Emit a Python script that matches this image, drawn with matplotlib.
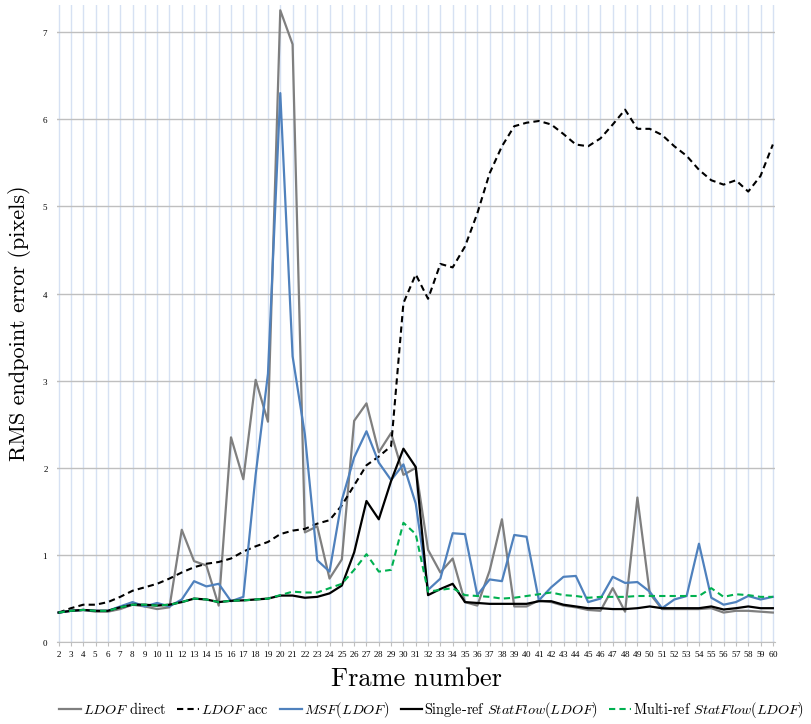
import numpy as np
import matplotlib
matplotlib.use('Agg')
import matplotlib.pyplot as plt

plt.rcParams['font.family'] = 'cmr10'
plt.rcParams['mathtext.fontset'] = 'cm'
plt.rcParams['axes.formatter.use_mathtext'] = True

# Frames and RMS endpoint error per method
frames = list(range(2, 61))

ldof_direct = [0.34, 0.36, 0.37, 0.35, 0.35, 0.38, 0.43, 0.41, 0.38, 0.40, 1.29, 0.93,
               0.88, 0.42, 2.35, 1.87, 3.01, 2.53, 7.25, 6.86, 1.26, 1.33, 0.73, 0.95,
               2.54, 2.74, 2.18, 2.40, 1.92, 2.00, 1.06, 0.80, 0.96, 0.46, 0.42, 0.82,
               1.41, 0.41, 0.41, 0.48, 0.46, 0.42, 0.40, 0.37, 0.36, 0.62, 0.35, 1.66,
               0.56, 0.38, 0.38, 0.38, 0.38, 0.39, 0.34, 0.36, 0.36, 0.35, 0.34]

ldof_acc = [0.34, 0.39, 0.43, 0.43, 0.46, 0.52, 0.59, 0.63, 0.67, 0.73, 0.80, 0.86,
            0.90, 0.92, 0.96, 1.04, 1.10, 1.15, 1.24, 1.28, 1.30, 1.36, 1.40, 1.57,
            1.80, 2.03, 2.13, 2.25, 3.89, 4.22, 3.94, 4.34, 4.30, 4.54, 4.92, 5.38,
            5.69, 5.92, 5.96, 5.98, 5.94, 5.83, 5.71, 5.69, 5.78, 5.94, 6.11, 5.89,
            5.89, 5.82, 5.69, 5.58, 5.42, 5.30, 5.25, 5.30, 5.17, 5.35, 5.71]

msf_ldof = [0.34, 0.36, 0.37, 0.36, 0.36, 0.41, 0.46, 0.41, 0.45, 0.41, 0.49, 0.70,
            0.64, 0.67, 0.47, 0.52, 1.92, 3.08, 6.30, 3.28, 2.38, 0.94, 0.81, 1.63,
            2.12, 2.42, 2.06, 1.86, 2.04, 1.59, 0.60, 0.73, 1.25, 1.24, 0.54, 0.72,
            0.70, 1.23, 1.21, 0.48, 0.63, 0.75, 0.76, 0.46, 0.50, 0.75, 0.68, 0.69,
            0.58, 0.39, 0.49, 0.53, 1.13, 0.51, 0.43, 0.46, 0.53, 0.49, 0.52]

single_ref = [0.34, 0.36, 0.37, 0.36, 0.36, 0.40, 0.43, 0.43, 0.42, 0.43, 0.46, 0.50,
              0.49, 0.46, 0.475, 0.48, 0.49, 0.50, 0.535, 0.535, 0.51, 0.52, 0.56, 0.65,
              1.03, 1.62, 1.41, 1.85, 2.22, 2.01, 0.54, 0.61, 0.67, 0.46, 0.45, 0.44,
              0.44, 0.44, 0.44, 0.47, 0.47, 0.43, 0.41, 0.39, 0.39, 0.38, 0.38, 0.39,
              0.41, 0.39, 0.39, 0.39, 0.39, 0.41, 0.375, 0.39, 0.41, 0.39, 0.39]

multi_ref = [0.34, 0.36, 0.37, 0.36, 0.36, 0.40, 0.43, 0.43, 0.42, 0.43, 0.46, 0.50,
             0.49, 0.46, 0.475, 0.48, 0.49, 0.50, 0.54, 0.58, 0.57, 0.57, 0.62, 0.67,
             0.83, 1.01, 0.81, 0.83, 1.37, 1.24, 0.58, 0.60, 0.62, 0.54, 0.53, 0.52,
             0.50, 0.51, 0.53, 0.55, 0.57, 0.54, 0.53, 0.51, 0.52, 0.52, 0.52, 0.53,
             0.53, 0.53, 0.53, 0.53, 0.53, 0.62, 0.52, 0.55, 0.54, 0.52, 0.52]

labels = [r'$LDOF$ direct', r'$LDOF$ acc', r'$MSF(LDOF)$',
          r'Single-ref $StatFlow(LDOF)$', r'Multi-ref $StatFlow(LDOF)$']

fig = plt.figure(figsize=(8.11, 7.24), dpi=100)
ax = fig.add_axes([0.070, 0.113, 0.886, 0.880])

ax.plot(frames, ldof_direct, color='#7f7f7f', lw=1.6, label=labels[0])
ax.plot(frames, ldof_acc, color='black', lw=1.5, ls=(0, (3, 2)), label=labels[1])
ax.plot(frames, msf_ldof, color='#4f81bd', lw=1.6, label=labels[2])
ax.plot(frames, single_ref, color='black', lw=1.6, label=labels[3])
ax.plot(frames, multi_ref, color='#00b050', lw=1.5, ls=(0, (3, 2)), label=labels[4])

ax.set_xlim(1.85, 60.2)
ax.set_ylim(0, 7.31)
ax.set_xticks(frames)
ax.set_yticks(range(0, 8))

# grid: light blue verticals, grey horizontals
ax.set_axisbelow(True)
ax.xaxis.grid(True, color='#d6e1f3', lw=1.0)
ax.yaxis.grid(True, color='#bfbfbf', lw=1.0)

for s in ['top', 'right', 'left']:
    ax.spines[s].set_visible(False)
ax.spines['bottom'].set_color('#bfbfbf')
ax.tick_params(axis='x', length=3, color='#bfbfbf', pad=2)
ax.tick_params(axis='y', length=0, pad=6)
for lab in ax.get_xticklabels() + ax.get_yticklabels():
    lab.set_fontfamily('Liberation Serif')
    lab.set_fontsize(6.5)

ax.set_xlabel('Frame number', fontsize=19, labelpad=6)
ax.set_ylabel('RMS endpoint error (pixels)', fontsize=16, labelpad=8)

fig.legend(loc='lower center', bbox_to_anchor=(0.532, -0.012), ncol=5, frameon=False,
           fontsize=10.3, handlelength=1.5, handletextpad=0.15, columnspacing=0.8)

fig.savefig('out.png', dpi=100)
